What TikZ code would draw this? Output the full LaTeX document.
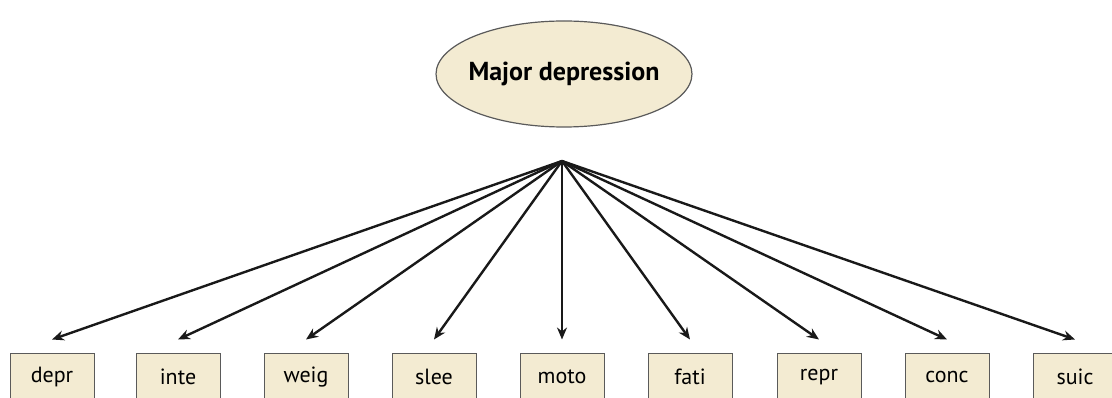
\documentclass[tikz,border=0pt]{standalone}
\usepackage{fontspec}
\setmainfont{PT Sans}
\usetikzlibrary{shapes.geometric,arrows.meta}
\definecolor{boxfill}{HTML}{F3EBD2}
\definecolor{boxline}{HTML}{5A5A5A}
\begin{document}
\begin{tikzpicture}[x=1pt,y=-1pt,
    item/.style={draw=boxline,line width=1pt,fill=boxfill,minimum width=84pt,minimum height=48pt,inner sep=0pt,font=\fontsize{22}{24}\selectfont},
    load/.style={-{Stealth[length=12pt,width=10pt]},line width=2.4pt,draw=black!90}]
    \useasboundingbox (0,0) rectangle (1112,398);
    \node[ellipse,draw=boxline,line width=1.2pt,fill=boxfill,inner xsep=-5pt,inner ysep=0pt,minimum height=106pt,font=\bfseries\fontsize{26}{28}\selectfont] (major) at (564,74) {Major depression};
    \coordinate (hub) at (562,161);
    % symptom boxes and loadings
    \foreach \x/\lbl [count=\i] in {52/depr,178/inte,306/weig,434/slee,562/moto,690/fati,819/repr,947/conc,1075/suic}
    {
        \node[item] (s\i) at (\x,377) {\lbl};
        \draw[load] (hub) -- ([yshift=13pt]s\i.north);
    }
\end{tikzpicture}
\end{document}
